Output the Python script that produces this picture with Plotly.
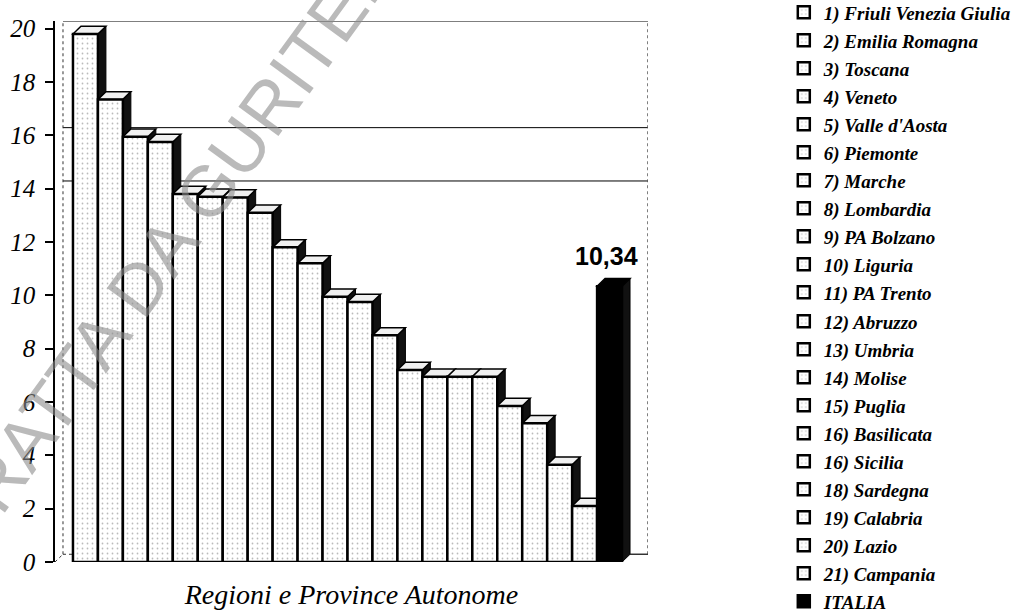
import plotly.graph_objects as go

regions = ["1) Friuli Venezia Giulia", "2) Emilia Romagna", "3) Toscana", "4) Veneto",
           "5) Valle d'Aosta", "6) Piemonte", "7) Marche", "8) Lombardia", "9) PA Bolzano",
           "10) Liguria", "11) PA Trento", "12) Abruzzo", "13) Umbria", "14) Molise",
           "15) Puglia", "16) Basilicata", "16) Sicilia", "18) Sardegna", "19) Calabria",
           "20) Lazio", "21) Campania", "ITALIA"]
values = [19.8, 17.35, 15.95, 15.75, 13.8, 13.7, 13.67, 13.1, 11.8, 11.2, 9.95, 9.75,
          8.5, 7.2, 6.95, 6.95, 6.95, 5.85, 5.2, 3.65, 2.1, 10.34]
italia_label = "10,34"
y_ticks = list(range(0, 21, 2))
wall_grid = [14, 16]
watermark = "TRATTA DA GURITEL"

DX, DY = 0.32, 0.29          # 3-D depth offsets (data units)
XR = (-1.22, 22.54)
YR = (0, 20.29)
FRONT_R = 22.22
n = len(values)
half = (n + 1) // 2

fig = go.Figure()
shapes = []
for i, (name, v) in enumerate(zip(regions, values)):
    is_it = name == "ITALIA"
    fig.add_trace(go.Bar(
        x=[i], y=[v], name=name, width=1.0, legendgroup=name,
        legend="legend" if i < half else "legend2",
        marker=dict(
            color="black" if is_it else "white",
            line=dict(color="black", width=2.5),
            pattern=None if is_it else dict(shape=".", fgcolor="#777777", bgcolor="white",
                                            size=5, solidity=0.1),
        ),
        hoverinfo="x+y",
    ))
    l, r = i - 0.5, i + 0.5
    side = f"M{r},0 L{r+DX},{DY} L{r+DX},{v+DY} L{r},{v} Z"
    top = f"M{l},{v} L{l+DX},{v+DY} L{r+DX},{v+DY} L{r},{v} Z"
    shapes.append(dict(type="path", path=side, xref="x", yref="y", layer="between",
                       fillcolor="#111111", line=dict(color="black", width=1)))
    shapes.append(dict(type="path", path=top, xref="x", yref="y", layer="between",
                       fillcolor="black" if is_it else "#f0f0f0",
                       line=dict(color="black", width=1.5)))

# back wall
wl, wr = XR[0] + DX, FRONT_R + DX
for g in wall_grid:
    shapes.append(dict(type="line", x0=wl, x1=wr, y0=g + DY, y1=g + DY, xref="x", yref="y",
                       layer="below", line=dict(color="black", width=1)))
shapes.append(dict(type="line", x0=wl, x1=wr, y0=20 + DY, y1=20 + DY, xref="x", yref="y",
                   layer="below", line=dict(color="#555555", width=1.5)))
shapes.append(dict(type="line", x0=wr, x1=wr, y0=DY, y1=20 + DY, xref="x", yref="y",
                   layer="below", line=dict(color="#555555", width=1.5, dash="dot")))
shapes.append(dict(type="line", x0=wl, x1=wl, y0=DY, y1=20 + DY, xref="x", yref="y",
                   layer="below", line=dict(color="#333333", width=1, dash="dot")))
shapes.append(dict(type="line", x0=XR[0], x1=wl, y0=0, y1=DY, xref="x", yref="y",
                   layer="below", line=dict(color="#333333", width=1, dash="dot")))
shapes.append(dict(type="line", x0=wl, x1=-0.5, y0=DY, y1=DY, xref="x", yref="y",
                   layer="below", line=dict(color="#333333", width=1, dash="dot")))
shapes.append(dict(type="line", x0=n - 0.5 + DX, x1=wr, y0=DY, y1=DY, xref="x", yref="y",
                   layer="below", line=dict(color="#333333", width=1.5)))

legend_font = dict(family="Liberation Serif", size=19, style="italic", weight="bold", color="black")

fig.update_layout(
    width=1018, height=611,
    margin=dict(l=55, r=370, t=20.7, b=49.3, autoexpand=False),
    paper_bgcolor="white", plot_bgcolor="white",
    barmode="overlay",
    showlegend=True,
    shapes=shapes,
    legend=dict(x=1.229, xanchor="left", y=1.0512, yanchor="top", font=legend_font,
                tracegroupgap=0.3, bgcolor="rgba(0,0,0,0)", itemclick=False, maxheight=340),
    legend2=dict(x=1.229, xanchor="left", y=0.48, yanchor="top", font=legend_font,
                 tracegroupgap=0.3, bgcolor="rgba(0,0,0,0)", itemclick=False, maxheight=340),
    xaxis=dict(range=list(XR), showticklabels=False, showgrid=False, zeroline=False,
               showline=False, ticks="",
               title=dict(text="Regioni e Province Autonome", standoff=22,
                          font=dict(family="Liberation Serif", size=28, style="italic", color="black"))),
    yaxis=dict(range=list(YR), tickvals=y_ticks, ticktext=[str(t) for t in y_ticks],
               showgrid=False, zeroline=False, showline=True, linecolor="black", linewidth=1.5,
               ticks="outside", ticklen=8, tickcolor="black", tickwidth=1.5,
               ticklabelstandoff=5,
               tickfont=dict(family="Liberation Serif", size=25, style="italic", color="black")),
    annotations=[
        dict(x=n - 1, y=values[-1], xref="x", yref="y", text=f"<b>{italia_label}</b>",
             showarrow=False, yanchor="middle", yshift=30, xshift=-3,
             font=dict(family="Liberation Sans", size=25, color="black")),
        dict(x=0.1855, y=0.576, xref="paper", yref="paper", text=watermark,
             showarrow=False, textangle=-54, xanchor="center", yanchor="middle",
             font=dict(family="Liberation Sans", size=72, color="rgba(140,140,140,0.6)")),
    ],
)

fig.write_html("out.html", config={"displayModeBar": False},
               post_script="document.body.style.margin='0px';")
